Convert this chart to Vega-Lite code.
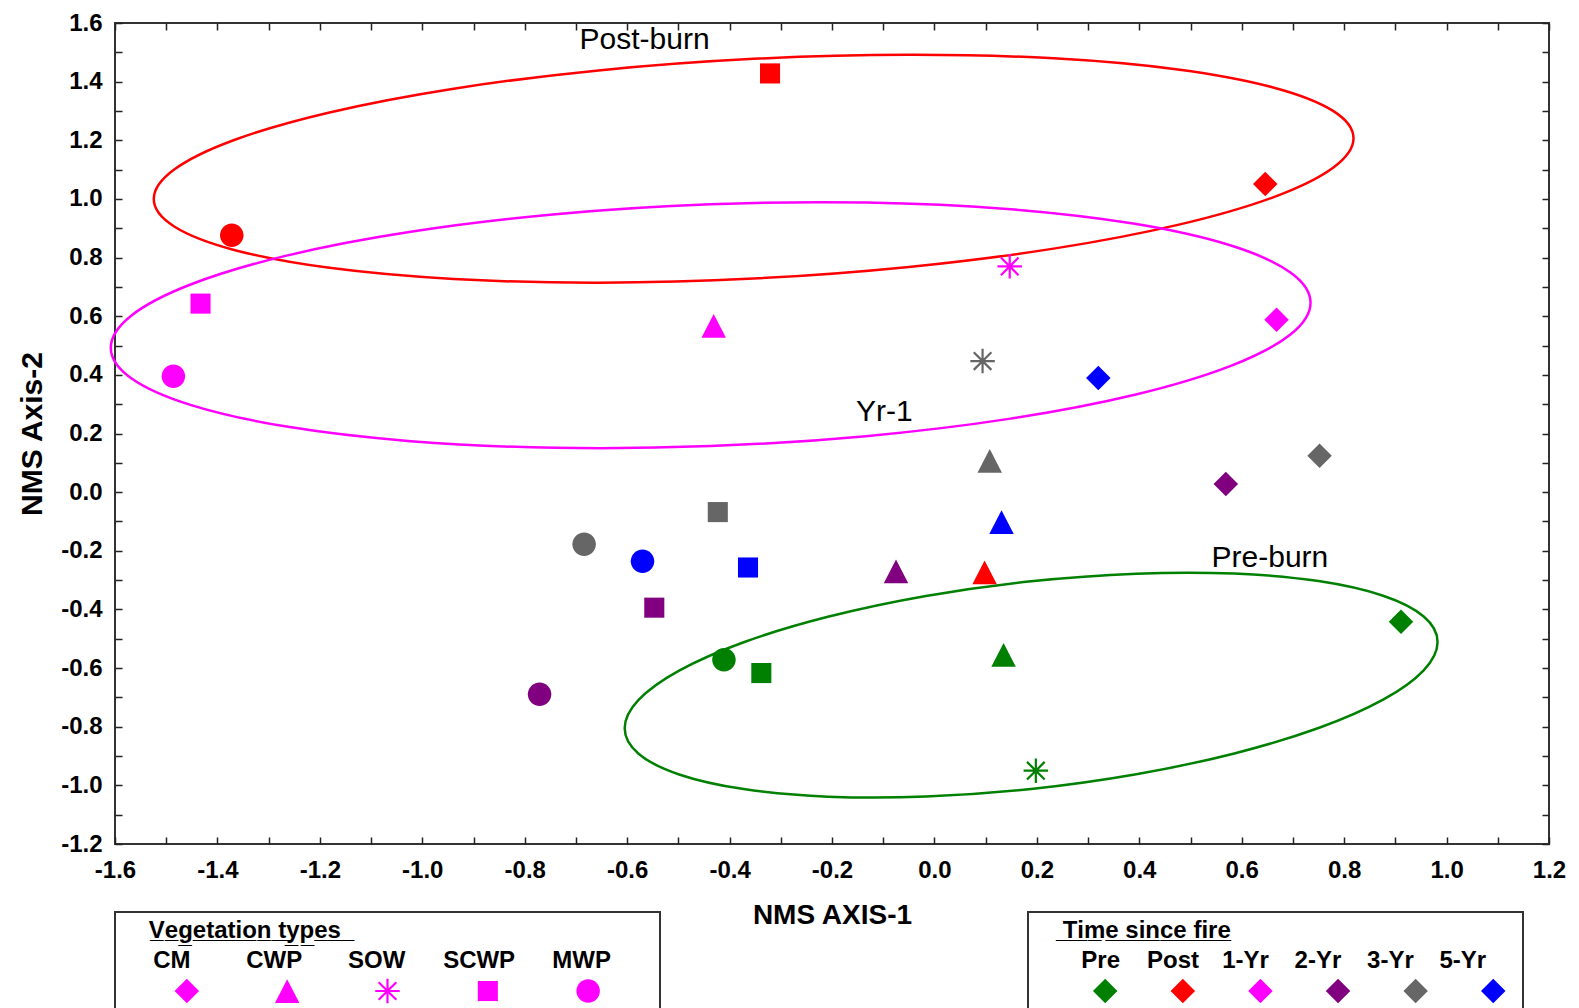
{
  "$schema": "https://vega.github.io/schema/vega-lite/v6.json",
  "background": "white",
  "padding": {"left": 16, "top": 10, "right": 10, "bottom": 0},
  "config": {"view": {"stroke": null}, "axis": {"grid": false}, "font": "Liberation Sans"},
  "datasets": {
    "points": [
      {"veg": "SCWP", "time": "Post", "x": -0.321, "y": 1.428},
      {"veg": "CM", "time": "Post", "x": 0.646, "y": 1.051},
      {"veg": "MWP", "time": "Post", "x": -1.372, "y": 0.876},
      {"veg": "CWP", "time": "Post", "x": 0.098, "y": -0.274},
      {"veg": "SCWP", "time": "1-Yr", "x": -1.433, "y": 0.643},
      {"veg": "MWP", "time": "1-Yr", "x": -1.486, "y": 0.395},
      {"veg": "CWP", "time": "1-Yr", "x": -0.431, "y": 0.567},
      {"veg": "SOW", "time": "1-Yr", "x": 0.147, "y": 0.77},
      {"veg": "CM", "time": "1-Yr", "x": 0.668, "y": 0.588},
      {"veg": "SOW", "time": "3-Yr", "x": 0.094, "y": 0.447},
      {"veg": "CWP", "time": "3-Yr", "x": 0.108, "y": 0.107},
      {"veg": "CM", "time": "3-Yr", "x": 0.752, "y": 0.124},
      {"veg": "SCWP", "time": "3-Yr", "x": -0.423, "y": -0.068},
      {"veg": "MWP", "time": "3-Yr", "x": -0.684, "y": -0.178},
      {"veg": "CM", "time": "5-Yr", "x": 0.32, "y": 0.389},
      {"veg": "CWP", "time": "5-Yr", "x": 0.131, "y": -0.102},
      {"veg": "SCWP", "time": "5-Yr", "x": -0.364, "y": -0.257},
      {"veg": "MWP", "time": "5-Yr", "x": -0.57, "y": -0.236},
      {"veg": "CM", "time": "2-Yr", "x": 0.569, "y": 0.028},
      {"veg": "CWP", "time": "2-Yr", "x": -0.075, "y": -0.27},
      {"veg": "SCWP", "time": "2-Yr", "x": -0.547, "y": -0.394},
      {"veg": "MWP", "time": "2-Yr", "x": -0.771, "y": -0.689},
      {"veg": "CM", "time": "Pre", "x": 0.911, "y": -0.442},
      {"veg": "CWP", "time": "Pre", "x": 0.135, "y": -0.555},
      {"veg": "SCWP", "time": "Pre", "x": -0.338, "y": -0.617},
      {"veg": "MWP", "time": "Pre", "x": -0.411, "y": -0.572},
      {"veg": "SOW", "time": "Pre", "x": 0.198, "y": -0.95}
    ],
    "ellipses": [
      {"g": "Post-burn", "i": 0, "x": 0.8183, "y": 1.2068},
      {"g": "Post-burn", "i": 1, "x": 0.7784, "y": 1.1063},
      {"g": "Post-burn", "i": 2, "x": 0.6613, "y": 1.0055},
      {"g": "Post-burn", "i": 3, "x": 0.4752, "y": 0.9115},
      {"g": "Post-burn", "i": 4, "x": 0.2327, "y": 0.8305},
      {"g": "Post-burn", "i": 5, "x": -0.0499, "y": 0.7681},
      {"g": "Post-burn", "i": 6, "x": -0.353, "y": 0.7285},
      {"g": "Post-burn", "i": 7, "x": -0.6561, "y": 0.7145},
      {"g": "Post-burn", "i": 8, "x": -0.9387, "y": 0.7269},
      {"g": "Post-burn", "i": 9, "x": -1.1812, "y": 0.7649},
      {"g": "Post-burn", "i": 10, "x": -1.3673, "y": 0.8261},
      {"g": "Post-burn", "i": 11, "x": -1.4844, "y": 0.9061},
      {"g": "Post-burn", "i": 12, "x": -1.5243, "y": 0.9996},
      {"g": "Post-burn", "i": 13, "x": -1.4844, "y": 1.1001},
      {"g": "Post-burn", "i": 14, "x": -1.3673, "y": 1.2009},
      {"g": "Post-burn", "i": 15, "x": -1.1812, "y": 1.2949},
      {"g": "Post-burn", "i": 16, "x": -0.9387, "y": 1.3759},
      {"g": "Post-burn", "i": 17, "x": -0.6561, "y": 1.4383},
      {"g": "Post-burn", "i": 18, "x": -0.353, "y": 1.4779},
      {"g": "Post-burn", "i": 19, "x": -0.0499, "y": 1.4919},
      {"g": "Post-burn", "i": 20, "x": 0.2327, "y": 1.4795},
      {"g": "Post-burn", "i": 21, "x": 0.4752, "y": 1.4415},
      {"g": "Post-burn", "i": 22, "x": 0.6613, "y": 1.3803},
      {"g": "Post-burn", "i": 23, "x": 0.7784, "y": 1.3003},
      {"g": "Yr-1", "i": 0, "x": 0.7344, "y": 0.646},
      {"g": "Yr-1", "i": 1, "x": 0.6945, "y": 0.5367},
      {"g": "Yr-1", "i": 2, "x": 0.5774, "y": 0.4296},
      {"g": "Yr-1", "i": 3, "x": 0.3913, "y": 0.332},
      {"g": "Yr-1", "i": 4, "x": 0.1488, "y": 0.2507},
      {"g": "Yr-1", "i": 5, "x": -0.1338, "y": 0.191},
      {"g": "Yr-1", "i": 6, "x": -0.4369, "y": 0.1571},
      {"g": "Yr-1", "i": 7, "x": -0.74, "y": 0.1512},
      {"g": "Yr-1", "i": 8, "x": -1.0226, "y": 0.1739},
      {"g": "Yr-1", "i": 9, "x": -1.2651, "y": 0.2236},
      {"g": "Yr-1", "i": 10, "x": -1.4512, "y": 0.2968},
      {"g": "Yr-1", "i": 11, "x": -1.5683, "y": 0.3885},
      {"g": "Yr-1", "i": 12, "x": -1.6082, "y": 0.4926},
      {"g": "Yr-1", "i": 13, "x": -1.5683, "y": 0.6019},
      {"g": "Yr-1", "i": 14, "x": -1.4512, "y": 0.709},
      {"g": "Yr-1", "i": 15, "x": -1.2651, "y": 0.8066},
      {"g": "Yr-1", "i": 16, "x": -1.0226, "y": 0.8879},
      {"g": "Yr-1", "i": 17, "x": -0.74, "y": 0.9476},
      {"g": "Yr-1", "i": 18, "x": -0.4369, "y": 0.9815},
      {"g": "Yr-1", "i": 19, "x": -0.1338, "y": 0.9874},
      {"g": "Yr-1", "i": 20, "x": 0.1488, "y": 0.9647},
      {"g": "Yr-1", "i": 21, "x": 0.3913, "y": 0.915},
      {"g": "Yr-1", "i": 22, "x": 0.5774, "y": 0.8418},
      {"g": "Yr-1", "i": 23, "x": 0.6945, "y": 0.7501},
      {"g": "Pre-burn", "i": 0, "x": 0.9824, "y": -0.5108},
      {"g": "Pre-burn", "i": 1, "x": 0.9553, "y": -0.6075},
      {"g": "Pre-burn", "i": 2, "x": 0.8761, "y": -0.7076},
      {"g": "Pre-burn", "i": 3, "x": 0.75, "y": -0.8044},
      {"g": "Pre-burn", "i": 4, "x": 0.5856, "y": -0.8911},
      {"g": "Pre-burn", "i": 5, "x": 0.3942, "y": -0.9621},
      {"g": "Pre-burn", "i": 6, "x": 0.1888, "y": -1.0123},
      {"g": "Pre-burn", "i": 7, "x": -0.0166, "y": -1.0383},
      {"g": "Pre-burn", "i": 8, "x": -0.208, "y": -1.0385},
      {"g": "Pre-burn", "i": 9, "x": -0.3724, "y": -1.0128},
      {"g": "Pre-burn", "i": 10, "x": -0.4985, "y": -0.9628},
      {"g": "Pre-burn", "i": 11, "x": -0.5777, "y": -0.8921},
      {"g": "Pre-burn", "i": 12, "x": -0.6048, "y": -0.8054},
      {"g": "Pre-burn", "i": 13, "x": -0.5777, "y": -0.7087},
      {"g": "Pre-burn", "i": 14, "x": -0.4985, "y": -0.6086},
      {"g": "Pre-burn", "i": 15, "x": -0.3724, "y": -0.5118},
      {"g": "Pre-burn", "i": 16, "x": -0.208, "y": -0.4251},
      {"g": "Pre-burn", "i": 17, "x": -0.0166, "y": -0.3541},
      {"g": "Pre-burn", "i": 18, "x": 0.1888, "y": -0.3039},
      {"g": "Pre-burn", "i": 19, "x": 0.3942, "y": -0.2779},
      {"g": "Pre-burn", "i": 20, "x": 0.5856, "y": -0.2777},
      {"g": "Pre-burn", "i": 21, "x": 0.75, "y": -0.3034},
      {"g": "Pre-burn", "i": 22, "x": 0.8761, "y": -0.3534},
      {"g": "Pre-burn", "i": 23, "x": 0.9553, "y": -0.4241}
    ],
    "annotations": [
      {"label": "Post-burn", "x": -0.566, "y": 1.543},
      {"label": "Yr-1", "x": -0.098, "y": 0.273},
      {"label": "Pre-burn", "x": 0.655, "y": -0.225}
    ],
    "vegLegend": [
      {"veg": "CM"}, {"veg": "CWP"}, {"veg": "SOW"}, {"veg": "SCWP"}, {"veg": "MWP"}
    ],
    "timeLegend": [
      {"time": "Pre"}, {"time": "Post"}, {"time": "1-Yr"}, {"time": "2-Yr"}, {"time": "3-Yr"}, {"time": "5-Yr"}
    ],
    "legendTitles": [
      {"legend": "veg", "title": "V\u0332e\u0332g\u0332e\u0332t\u0332a\u0332t\u0332i\u0332o\u0332n\u0332 \u0332t\u0332y\u0332p\u0332e\u0332s\u0332 \u0332"},
      {"legend": "time", "title": " \u0332T\u0332i\u0332m\u0332e\u0332 \u0332s\u0332i\u0332n\u0332c\u0332e\u0332 \u0332f\u0332i\u0332r\u0332e\u0332"}
    ]
  },
  "spacing": 68,
  "bounds": "flush",
  "vconcat": [
    {
      "width": 1434,
      "height": 821,
      "view": {"stroke": "#333333", "strokeWidth": 2},
      "resolve": {"axis": {"x": "independent", "y": "independent"}},
      "layer": [
        {
          "data": {"name": "ellipses"},
          "mark": {"type": "line", "interpolate": "cardinal-closed", "strokeWidth": 2.5},
          "encoding": {
            "x": {
              "field": "x", "type": "quantitative",
              "scale": {"domain": [-1.6, 1.2], "nice": false, "zero": false},
              "axis": {
                "orient": "bottom",
                "values": [-1.6,-1.5,-1.4,-1.3,-1.2,-1.1,-1.0,-0.9,-0.8,-0.7,-0.6,-0.5,-0.4,-0.3,-0.2,-0.1,0,0.1,0.2,0.3,0.4,0.5,0.6,0.7,0.8,0.9,1.0,1.1,1.2],
                "labelExpr": "round(datum.value*10) % 2 == 0 ? (datum.value < -0.001 ? '-' : '') + format(abs(datum.value), '.1f') : ''",
                "domain": false, "grid": false,
                "tickSize": -7, "tickColor": "#222222", "tickWidth": 1.5,
                "labelFont": "Liberation Sans", "labelFontWeight": "bold", "labelFontSize": 24, "labelColor": "#000000",
                "labelPadding": 21, "labelOverlap": false, "labelFlush": false,
                "title": "NMS AXIS-1", "titleFont": "Liberation Sans", "titleFontSize": 28, "titleFontWeight": "bold", "titleColor": "#000000", "titlePadding": 19
              }
            },
            "y": {
              "field": "y", "type": "quantitative",
              "scale": {"domain": [-1.2, 1.6], "nice": false, "zero": false},
              "axis": {
                "orient": "left",
                "values": [-1.2,-1.1,-1.0,-0.9,-0.8,-0.7,-0.6,-0.5,-0.4,-0.3,-0.2,-0.1,0,0.1,0.2,0.3,0.4,0.5,0.6,0.7,0.8,0.9,1.0,1.1,1.2,1.3,1.4,1.5,1.6],
                "labelExpr": "round(datum.value*10) % 2 == 0 ? (datum.value < -0.001 ? '-' : '') + format(abs(datum.value), '.1f') : ''",
                "domain": false, "grid": false,
                "tickSize": -7, "tickColor": "#222222", "tickWidth": 1.5,
                "labelFont": "Liberation Sans", "labelFontWeight": "bold", "labelFontSize": 24, "labelColor": "#000000",
                "labelPadding": 20, "labelOverlap": false, "labelFlush": false,
                "title": "NMS Axis-2", "titleFont": "Liberation Sans", "titleFontSize": 30, "titleFontWeight": "bold", "titleColor": "#000000", "titlePadding": 13
              }
            },
            "stroke": {
              "field": "g", "type": "nominal",
              "scale": {"domain": ["Post-burn", "Yr-1", "Pre-burn"], "range": ["#ff0000", "#ff00ff", "#008000"]},
              "legend": null
            },
            "order": {"field": "i", "type": "quantitative"}
          }
        },
        {
          "data": {"name": "points"},
          "mark": {"type": "point", "opacity": 0},
          "encoding": {
            "x": {
              "field": "x", "type": "quantitative",
              "axis": {
                "orient": "top",
                "values": [-1.6,-1.5,-1.4,-1.3,-1.2,-1.1,-1.0,-0.9,-0.8,-0.7,-0.6,-0.5,-0.4,-0.3,-0.2,-0.1,0,0.1,0.2,0.3,0.4,0.5,0.6,0.7,0.8,0.9,1.0,1.1,1.2],
                "labels": false, "domain": false, "grid": false, "title": null,
                "tickSize": -7, "tickColor": "#222222", "tickWidth": 1.5
              }
            },
            "y": {
              "field": "y", "type": "quantitative",
              "axis": {
                "orient": "right",
                "values": [-1.2,-1.1,-1.0,-0.9,-0.8,-0.7,-0.6,-0.5,-0.4,-0.3,-0.2,-0.1,0,0.1,0.2,0.3,0.4,0.5,0.6,0.7,0.8,0.9,1.0,1.1,1.2,1.3,1.4,1.5,1.6],
                "labels": false, "domain": false, "grid": false, "title": null,
                "tickSize": -7, "tickColor": "#222222", "tickWidth": 1.5
              }
            }
          }
        },
        {
          "data": {"name": "points"},
          "transform": [{"filter": "datum.veg != 'SOW'"}],
          "mark": {"type": "point", "filled": true, "opacity": 1, "size": 600},
          "encoding": {
            "x": {"field": "x", "type": "quantitative", "axis": null},
            "y": {"field": "y", "type": "quantitative", "axis": null},
            "shape": {
              "field": "veg", "type": "nominal",
              "scale": {
                "domain": ["CM", "CWP", "SOW", "SCWP", "MWP"],
                "range": ["diamond", "M0,-0.97L1,0.97L-1,0.97Z", "M-1,0H1M0,-1V1M-0.72,-0.72L0.72,0.72M-0.72,0.72L0.72,-0.72", "M-0.82,-0.82H0.82V0.82H-0.82Z", "M-0.96,0A0.96,0.96,0,1,1,0.96,0A0.96,0.96,0,1,1,-0.96,0Z"]
              },
              "legend": null
            },
            "color": {
              "field": "time", "type": "nominal",
              "scale": {"domain": ["Pre", "Post", "1-Yr", "2-Yr", "3-Yr", "5-Yr"], "range": ["#008000", "#ff0000", "#ff00ff", "#800080", "#666666", "#0000ff"]},
              "legend": null
            }
          }
        },
        {
          "data": {"name": "points"},
          "transform": [{"filter": "datum.veg == 'SOW'"}],
          "mark": {"type": "point", "filled": false, "opacity": 1, "size": 600, "strokeWidth": 2.2},
          "encoding": {
            "x": {"field": "x", "type": "quantitative", "axis": null},
            "y": {"field": "y", "type": "quantitative", "axis": null},
            "shape": {"field": "veg", "type": "nominal", "legend": null},
            "color": {"field": "time", "type": "nominal", "legend": null}
          }
        },
        {
          "data": {"name": "annotations"},
          "mark": {"type": "text", "font": "Liberation Sans", "fontSize": 30, "color": "#000000"},
          "encoding": {
            "x": {"field": "x", "type": "quantitative", "axis": null},
            "y": {"field": "y", "type": "quantitative", "axis": null},
            "text": {"field": "label"}
          }
        }
      ]
    },
    {
      "spacing": 368,
      "bounds": "flush",
      "hconcat": [
        {
          "width": 545,
          "height": 97,
          "view": {"stroke": "#333333", "strokeWidth": 2},
          "resolve": {"scale": {"x": "independent"}},
          "layer": [
            {
              "data": {"name": "vegLegend"},
              "mark": {"type": "text", "font": "Liberation Sans", "fontWeight": "bold", "fontSize": 24, "color": "#000000"},
              "encoding": {
                "x": {"field": "veg", "type": "nominal", "scale": {"type": "point", "domain": ["CM", "CWP", "SOW", "SCWP", "MWP"], "padding": 0.66, "align": 0.42}, "axis": null},
                "y": {"datum": "label", "type": "nominal", "scale": {"type": "point", "domain": ["title", "label", "symbol"], "padding": 0.617, "align": 0.514}, "axis": null},
                "text": {"field": "veg"}
              }
            },
            {
              "data": {"name": "legendTitles"},
              "transform": [{"filter": "datum.legend == 'veg'"}],
              "mark": {"type": "text", "font": "Liberation Sans", "fontWeight": "bold", "fontSize": 24, "color": "#000000", "align": "left", "dx": -23},
              "encoding": {
                "x": {"datum": "CM", "type": "nominal", "scale": {"type": "point", "domain": ["CM", "CWP", "SOW", "SCWP", "MWP"], "padding": 0.66, "align": 0.42}, "axis": null},
                "y": {"datum": "title", "type": "nominal", "axis": null},
                "text": {"field": "title"}
              }
            },
            {
              "data": {"name": "vegLegend"},
              "transform": [{"filter": "datum.veg != 'SOW'"}],
              "mark": {"type": "point", "filled": true, "opacity": 1, "size": 600, "color": "#ff00ff"},
              "encoding": {
                "x": {"field": "veg", "type": "nominal", "scale": {"type": "point", "domain": ["CM", "CWP", "SOW", "SCWP", "MWP"], "padding": 0.716, "align": 0.5}, "axis": null},
                "y": {"datum": "symbol", "type": "nominal", "axis": null},
                "shape": {"field": "veg", "type": "nominal", "legend": null}
              }
            },
            {
              "data": {"name": "vegLegend"},
              "transform": [{"filter": "datum.veg == 'SOW'"}],
              "mark": {"type": "point", "filled": false, "opacity": 1, "size": 600, "color": "#ff00ff", "strokeWidth": 2.2},
              "encoding": {
                "x": {"field": "veg", "type": "nominal", "scale": {"type": "point", "domain": ["CM", "CWP", "SOW", "SCWP", "MWP"], "padding": 0.716, "align": 0.5}, "axis": null},
                "y": {"datum": "symbol", "type": "nominal", "axis": null},
                "shape": {"field": "veg", "type": "nominal", "legend": null}
              }
            }
          ]
        },
        {
          "width": 495,
          "height": 97,
          "view": {"stroke": "#333333", "strokeWidth": 2},
          "resolve": {"scale": {"x": "independent"}},
          "layer": [
            {
              "data": {"name": "timeLegend"},
              "mark": {"type": "text", "font": "Liberation Sans", "fontWeight": "bold", "fontSize": 24, "color": "#000000"},
              "encoding": {
                "x": {"field": "time", "type": "nominal", "scale": {"type": "point", "domain": ["Pre", "Post", "1-Yr", "2-Yr", "3-Yr", "5-Yr"], "padding": 0.917, "align": 0.547}, "axis": null},
                "y": {"datum": "label", "type": "nominal", "scale": {"type": "point", "domain": ["title", "label", "symbol"], "padding": 0.617, "align": 0.514}, "axis": null},
                "text": {"field": "time"}
              }
            },
            {
              "data": {"name": "legendTitles"},
              "transform": [{"filter": "datum.legend == 'time'"}],
              "mark": {"type": "text", "font": "Liberation Sans", "fontWeight": "bold", "fontSize": 24, "color": "#000000", "align": "left", "dx": -38},
              "encoding": {
                "x": {"datum": "Pre", "type": "nominal", "scale": {"type": "point", "domain": ["Pre", "Post", "1-Yr", "2-Yr", "3-Yr", "5-Yr"], "padding": 0.917, "align": 0.547}, "axis": null},
                "y": {"datum": "title", "type": "nominal", "axis": null},
                "text": {"field": "title"}
              }
            },
            {
              "data": {"name": "timeLegend"},
              "mark": {"type": "point", "filled": true, "opacity": 1, "size": 600, "shape": "diamond"},
              "encoding": {
                "x": {"field": "time", "type": "nominal", "scale": {"type": "point", "domain": ["Pre", "Post", "1-Yr", "2-Yr", "3-Yr", "5-Yr"], "padding": 0.689, "align": 0.722}, "axis": null},
                "y": {"datum": "symbol", "type": "nominal", "axis": null},
                "color": {"field": "time", "type": "nominal", "legend": null}
              }
            }
          ]
        }
      ]
    }
  ]
}
